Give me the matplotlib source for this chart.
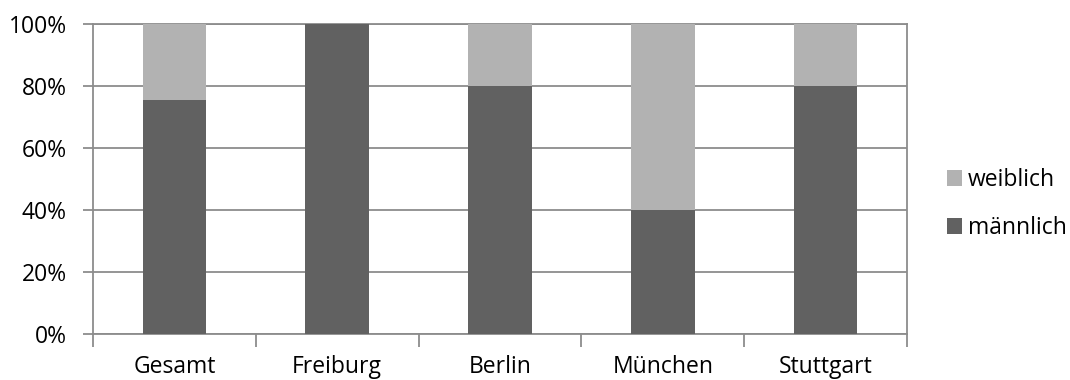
import matplotlib

matplotlib.use("Agg")
import matplotlib.pyplot as plt
import numpy as np
from matplotlib.ticker import FixedLocator, PercentFormatter

plt.rcParams["font.family"] = ["Open Sans", "DejaVu Sans"]

# share of male / female participants per location
orte = ["Gesamt", "Freiburg", "Berlin", "München", "Stuttgart"]
maennlich = [0.756, 1.0, 0.80, 0.40, 0.80]
weiblich = [0.244, 0.0, 0.20, 0.60, 0.20]

c_m = "#616161"
c_w = "#b2b2b2"
c_axis = "#8c8c8c"
fs = 16.5

fig = plt.figure(figsize=(10.7, 3.8), dpi=100)
ax = fig.add_axes([93 / 1070, 46 / 380, 814 / 1070, 310 / 380])

x = np.arange(len(orte))
ax.bar(x, maennlich, width=0.39, color=c_m, label="männlich", zorder=3)
ax.bar(x, weiblich, width=0.39, bottom=maennlich, color=c_w, label="weiblich", zorder=3)

ax.set_xlim(-0.5, len(orte) - 0.5)
ax.set_ylim(0, 1)
ax.set_yticks(np.arange(0, 1.01, 0.2))
ax.yaxis.set_major_formatter(PercentFormatter(1.0, decimals=0))
ax.grid(axis="y", color=c_axis, linewidth=1.3, zorder=0)

# category labels centred, tick marks on category boundaries
ax.set_xticks(x)
ax.set_xticklabels(orte)
ax.xaxis.set_minor_locator(FixedLocator(np.arange(-0.5, len(orte), 1.0)))
ax.tick_params(axis="x", which="major", length=0, pad=15, labelsize=fs, colors="black")
ax.tick_params(axis="x", which="minor", length=9, width=1.3, color=c_axis)
ax.tick_params(axis="y", length=7, width=1.3, color=c_axis, labelsize=fs, pad=12)

for s in ax.spines.values():
    s.set_color(c_axis)
    s.set_linewidth(1.3)

h, l = ax.get_legend_handles_labels()
fig.legend(h[::-1], l[::-1], loc="center left", bbox_to_anchor=(947 / 1070, 1 - 204 / 380),
           frameon=False, fontsize=fs, handlelength=0.66, handleheight=0.66,
           handletextpad=0.25, labelspacing=1.05, borderaxespad=0, borderpad=0)

fig.savefig("out.png", dpi=100)
